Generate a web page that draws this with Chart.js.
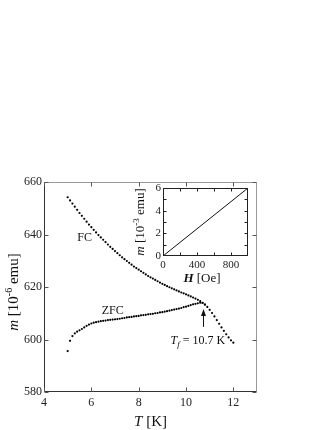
<!DOCTYPE html>
<html>
<head>
<meta charset="utf-8">
<script src="https://cdn.jsdelivr.net/npm/chart.js@4.4.0/dist/chart.umd.min.js"></script>
<style>
  html, body { margin: 0; padding: 0; background: #fff; }
  #wrap { position: relative; width: 332px; height: 430px; }
  #wrap canvas { position: absolute; left: 0; top: 0; }
</style>
</head>
<body>
<div id="wrap">
  <canvas id="mainChart" width="332" height="430"></canvas>
  <canvas id="insetChart" width="332" height="430"></canvas>
</div>
<script>
// Field-cooled curve: T [K] and m [10^-6 emu]
const tempFC = [5.0, 5.1, 5.2, 5.3, 5.4, 5.5, 5.6, 5.7, 5.8, 5.9,
    6.0, 6.1, 6.2, 6.3, 6.4, 6.5, 6.6, 6.7, 6.8, 6.9,
    7.0, 7.1, 7.2, 7.3, 7.4, 7.5, 7.6, 7.7, 7.8, 7.9,
    8.0, 8.1, 8.2, 8.3, 8.4, 8.5, 8.6, 8.7, 8.8, 8.9,
    9.0, 9.1, 9.2, 9.3, 9.4, 9.5, 9.6, 9.7, 9.8, 9.9,
    10.0, 10.1, 10.2, 10.3, 10.4, 10.5, 10.6, 10.7, 10.8, 10.9,
    11.0, 11.1, 11.2, 11.3, 11.4, 11.5, 11.6, 11.7, 11.8, 11.9, 12.0];
const momentFC = [654.2, 653.0, 651.8, 650.6, 649.4, 648.2, 647.1, 646.0, 644.9, 643.8,
    642.8, 641.8, 640.8, 639.8, 638.9, 638.0, 637.1, 636.2, 635.3, 634.5,
    633.7, 632.9, 632.1, 631.3, 630.6, 629.9, 629.2, 628.5, 627.8, 627.2,
    626.6, 626.0, 625.4, 624.8, 624.2, 623.7, 623.2, 622.7, 622.2, 621.7,
    621.2, 620.8, 620.3, 619.9, 619.5, 619.1, 618.7, 618.3, 617.9, 617.6,
    617.2, 616.8, 616.4, 616.0, 615.6, 615.1, 614.6, 614.0, 613.3, 612.4,
    611.3, 610.1, 608.8, 607.4, 606.0, 604.6, 603.3, 602.0, 600.8, 599.7, 598.8];

// Zero-field-cooled curve
const tempZFC = [5.0, 5.1, 5.2, 5.3, 5.4, 5.5, 5.6, 5.7, 5.8, 5.9,
    6.0, 6.1, 6.2, 6.3, 6.4, 6.5, 6.6, 6.7, 6.8, 6.9,
    7.0, 7.1, 7.2, 7.3, 7.4, 7.5, 7.6, 7.7, 7.8, 7.9,
    8.0, 8.1, 8.2, 8.3, 8.4, 8.5, 8.6, 8.7, 8.8, 8.9,
    9.0, 9.1, 9.2, 9.3, 9.4, 9.5, 9.6, 9.7, 9.8, 9.9,
    10.0, 10.1, 10.2, 10.3, 10.4, 10.5, 10.6, 10.7, 10.8];
const momentZFC = [595.6, 599.5, 601.3, 602.3, 603.0, 603.5, 604.0, 604.6, 605.2, 605.7,
    606.1, 606.4, 606.6, 606.8, 607.0, 607.1, 607.2, 607.4, 607.5, 607.6,
    607.7, 607.8, 607.9, 608.1, 608.2, 608.4, 608.5, 608.6, 608.8, 608.9,
    609.0, 609.2, 609.3, 609.4, 609.6, 609.7, 609.8, 610.0, 610.1, 610.3,
    610.4, 610.6, 610.8, 611.0, 611.2, 611.4, 611.6, 611.8, 612.0, 612.3,
    612.5, 612.8, 613.1, 613.4, 613.6, 613.8, 614.0, 613.9, 613.3];

const xTicks = [4, 6, 8, 10, 12];
const yTicks = [580, 600, 620, 640, 660];
const freezingTemp = 10.7;

// Inset: m vs H
const fieldH = [0, 1000];
const momentH = [0, 6];
const insetXTicks = [0, 400, 800];
const insetYTicks = [0, 2, 4, 6];

const serif = '"Liberation Serif", "DejaVu Serif", serif';
const ink = '#111';

function toPoints(xs, ys) {
    return xs.map((v, i) => ({ x: v, y: ys[i] }));
}

// draw a run of text pieces with their own fonts, centred on (cx, cy)
function drawPieces(ctx, pieces, cx, cy) {
    let total = 0;
    pieces.forEach(p => { ctx.font = p.font; total += ctx.measureText(p.text).width; });
    let x = cx - total / 2;
    ctx.textBaseline = 'middle';
    ctx.textAlign = 'left';
    pieces.forEach(p => {
        ctx.font = p.font;
        ctx.fillText(p.text, x, cy + (p.dy || 0));
        x += ctx.measureText(p.text).width;
    });
}

function tickMarks(ctx, scale, values, area, len, horizontal) {
    values.forEach(v => {
        const p = Math.round(scale.getPixelForValue(v)) + 0.5;
        ctx.beginPath();
        if (horizontal) {
            ctx.moveTo(p, area.bottom); ctx.lineTo(p, area.bottom - len);
            ctx.moveTo(p, area.top); ctx.lineTo(p, area.top + len);
        } else {
            ctx.moveTo(area.left, p); ctx.lineTo(area.left + len, p);
            ctx.moveTo(area.right, p); ctx.lineTo(area.right - len, p);
        }
        ctx.stroke();
    });
}

const mainDecor = {
    id: 'mainDecor',
    afterDraw(chart) {
        const { ctx, chartArea: a, scales: { x, y } } = chart;
        const L = Math.round(a.left) + 0.5, R = Math.round(a.right) - 0.5;
        const T = Math.round(a.top) + 0.5, B = Math.round(a.bottom) - 0.5;
        const box = { left: L, right: R, top: T, bottom: B };
        ctx.save();
        ctx.lineWidth = 1;
        ctx.strokeStyle = '#999';
        ctx.beginPath();
        ctx.moveTo(L, T); ctx.lineTo(R, T); ctx.lineTo(R, B);
        ctx.stroke();
        ctx.strokeStyle = '#333';
        ctx.beginPath();
        ctx.moveTo(L, T); ctx.lineTo(L, B); ctx.lineTo(R, B);
        ctx.stroke();
        ctx.strokeStyle = '#555';
        tickMarks(ctx, x, xTicks, box, 4, true);
        tickMarks(ctx, y, yTicks, box, 4, false);

        ctx.fillStyle = ink;
        // axis titles
        drawPieces(ctx, [
            { text: 'T', font: 'italic 15px ' + serif },
            { text: ' [K]', font: '15px ' + serif }
        ], (a.left + a.right) / 2, 422);
        ctx.save();
        ctx.translate(14, 292);
        ctx.rotate(-Math.PI / 2);
        drawPieces(ctx, [
            { text: 'm', font: 'italic 15px ' + serif },
            { text: ' [10', font: '15px ' + serif },
            { text: '-6', font: '10px ' + serif, dy: -5 },
            { text: ' emu]', font: '15px ' + serif }
        ], 0, 0);
        ctx.restore();

        // curve labels
        drawPieces(ctx, [{ text: 'FC', font: '12px ' + serif }], x.getPixelForValue(5.72), y.getPixelForValue(638.7));
        drawPieces(ctx, [{ text: 'ZFC', font: '12px ' + serif }], x.getPixelForValue(6.9), y.getPixelForValue(611.0));

        // freezing temperature marker
        const ax = Math.round(x.getPixelForValue(freezingTemp)) + 0.5;
        const yTail = y.getPixelForValue(604.8);
        const yHead = y.getPixelForValue(611.6);
        ctx.strokeStyle = ink;
        ctx.beginPath();
        ctx.moveTo(ax, yTail); ctx.lineTo(ax, yHead + 4);
        ctx.stroke();
        ctx.beginPath();
        ctx.moveTo(ax, yHead); ctx.lineTo(ax - 2.5, yHead + 7); ctx.lineTo(ax + 2.5, yHead + 7);
        ctx.closePath();
        ctx.fill();
        drawPieces(ctx, [
            { text: 'T', font: 'italic 12px ' + serif },
            { text: 'f', font: 'italic 9px ' + serif, dy: 3 },
            { text: ' = ' + freezingTemp + ' K', font: '12px ' + serif }
        ], x.getPixelForValue(10.5), y.getPixelForValue(599.3));
        ctx.restore();
    }
};

const insetDecor = {
    id: 'insetDecor',
    afterDraw(chart) {
        const { ctx, chartArea: a, scales: { x, y } } = chart;
        const L = Math.round(a.left) + 0.5, R = Math.round(a.right) - 0.5;
        const T = Math.round(a.top) + 0.5, B = Math.round(a.bottom) - 0.5;
        const box = { left: L, right: R, top: T, bottom: B };
        ctx.save();
        ctx.lineWidth = 1;
        ctx.strokeStyle = '#222';
        ctx.strokeRect(L, T, R - L, B - T);
        tickMarks(ctx, x, [200, 400, 600, 800], box, 3, true);
        tickMarks(ctx, y, [1, 2, 3, 4, 5], box, 3, false);

        ctx.fillStyle = ink;
        drawPieces(ctx, [
            { text: 'H', font: 'italic bold 13px ' + serif },
            { text: ' [Oe]', font: '13px ' + serif }
        ], 202, 279);
        ctx.save();
        ctx.translate(141, 222);
        ctx.rotate(-Math.PI / 2);
        drawPieces(ctx, [
            { text: 'm', font: 'italic 13px ' + serif },
            { text: ' [10', font: '13px ' + serif },
            { text: '-3', font: '9px ' + serif, dy: -4 },
            { text: ' emu]', font: '13px ' + serif }
        ], 0, 0);
        ctx.restore();
        ctx.restore();
    }
};

const mainChart = new Chart(document.getElementById('mainChart'), {
    type: 'scatter',
    data: {
        datasets: [{
            label: 'FC',
            data: toPoints(tempFC, momentFC),
            pointRadius: 1.1,
            pointBackgroundColor: '#000',
            pointBorderWidth: 0
        }, {
            label: 'ZFC',
            data: toPoints(tempZFC, momentZFC),
            pointRadius: 1.1,
            pointBackgroundColor: '#000',
            pointBorderWidth: 0
        }]
    },
    options: {
        responsive: false,
        animation: false,
        devicePixelRatio: 1,
        layout: { padding: { top: 182, right: 75, left: 0, bottom: 0 } },
        plugins: { legend: { display: false }, tooltip: { enabled: false } },
        scales: {
            x: {
                type: 'linear', min: 4, max: 13,
                afterFit: s => { s.height = 38; },
                grid: { display: false, drawTicks: false }, border: { display: false },
                ticks: {
                    stepSize: 2, includeBounds: false, padding: 4, color: '#222',
                    font: { family: serif, size: 12 },
                    callback: v => xTicks.includes(v) ? v : ''
                }
            },
            y: {
                type: 'linear', min: 580, max: 660,
                afterFit: s => { s.width = 44; },
                grid: { display: false, drawTicks: false }, border: { display: false },
                ticks: {
                    stepSize: 20, padding: 2, color: '#222',
                    font: { family: serif, size: 12 },
                    callback: v => yTicks.includes(v) ? v : ''
                }
            }
        }
    },
    plugins: [mainDecor]
});

const insetChart = new Chart(document.getElementById('insetChart'), {
    type: 'scatter',
    data: {
        datasets: [{
            data: toPoints(fieldH, momentH),
            showLine: true,
            borderColor: '#111',
            borderWidth: 1,
            pointRadius: 0
        }]
    },
    options: {
        responsive: false,
        animation: false,
        devicePixelRatio: 1,
        layout: { padding: { top: 188, right: 84, left: 0, bottom: 0 } },
        plugins: { legend: { display: false }, tooltip: { enabled: false } },
        scales: {
            x: {
                type: 'linear', min: 0, max: 1000,
                afterFit: s => { s.height = 174; },
                grid: { display: false, drawTicks: false }, border: { display: false },
                ticks: {
                    stepSize: 400, includeBounds: false, padding: 3, color: '#222',
                    font: { family: serif, size: 11 },
                    callback: v => insetXTicks.includes(v) ? v : ''
                }
            },
            y: {
                type: 'linear', min: 0, max: 6,
                afterFit: s => { s.width = 163; },
                grid: { display: false, drawTicks: false }, border: { display: false },
                ticks: {
                    stepSize: 2, padding: 2, color: '#222',
                    font: { family: serif, size: 11 },
                    callback: v => insetYTicks.includes(v) ? v : ''
                }
            }
        }
    },
    plugins: [insetDecor]
});
</script>
</body>
</html>
